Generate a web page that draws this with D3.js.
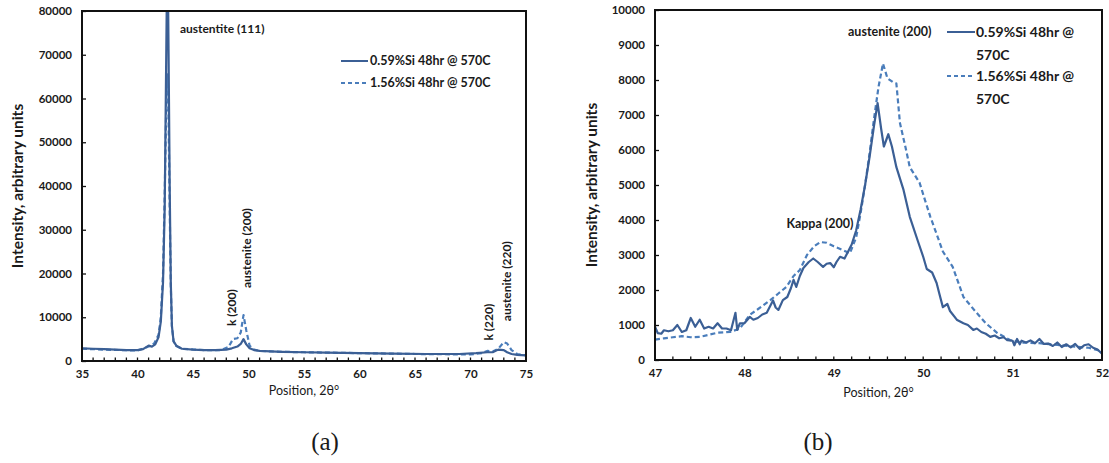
<!DOCTYPE html>
<html>
<head>
<meta charset="utf-8">
<script src="https://cdn.jsdelivr.net/npm/d3@7/dist/d3.min.js"></script>
<style>
  body { margin: 0; background: #fff; }
  svg { display: block; }
  text { font-family: Lato, "Open Sans", sans-serif; fill: #1a1a1a; }
</style>
</head>
<body>
<svg id="chart" width="1109" height="463"></svg>
<script>
// Panel (a): full scan, 2θ from 35° to 75°
const wideX_lowSi  = [35,36,37,38,39,40,40.5,41,41.3,41.6,41.9,42.1,42.3,42.45,42.55,42.65,42.72,42.8,42.9,43.0,43.1,43.25,43.5,44,45,46,47,48,48.5,49,49.3,49.55,49.8,50.1,50.5,51,52,53,55,57,60,63,66,69,70.5,71.5,72,72.5,73,73.3,73.7,74.2,75];
const wideY_lowSi  = [2900,2800,2700,2600,2500,2500,2700,3500,3300,3800,5500,9000,18000,35000,60000,85000,92000,70000,40000,18000,8000,4500,3500,2800,2600,2500,2500,2600,2900,3300,3900,5000,3800,2900,2500,2300,2200,2100,2000,1900,1800,1700,1600,1600,1800,2000,2000,2600,2500,2000,1600,1400,1300];
const wideX_highSi = [35,37,40,41,41.5,41.9,42.1,42.3,42.45,42.6,42.7,42.8,42.9,43.0,43.1,43.25,43.5,44,46,47.5,48.2,48.6,49.0,49.3,49.55,49.8,50.1,50.5,51,53,55,60,65,70,71,71.5,72,72.5,73,73.3,73.7,74.2,75];
const wideY_highSi = [2800,2600,2400,3300,4000,6000,10000,20000,38000,60000,65500,55000,35000,17000,8000,4500,3400,2800,2500,2500,3200,5000,5200,6500,10500,7000,3500,2600,2300,2100,2000,1800,1600,1500,1800,2300,2200,2800,4300,4000,2500,1600,1300];
const wideXTicks = [35,40,45,50,55,60,65,70,75];
const wideYTicks = [0,10000,20000,30000,40000,50000,60000,70000,80000];

// Panel (b): detail around the austenite (200) reflection
const zoomX_lowSi = [47.00,47.03,47.07,47.10,47.15,47.20,47.25,47.30,47.35,47.40,47.45,47.50,47.55,47.60,47.65,47.70,47.75,47.80,47.85,47.90,47.92,47.95,48.00,48.06,48.10,48.15,48.20,48.25,48.32,48.35,48.38,48.43,48.48,48.52,48.55,48.58,48.62,48.66,48.72,48.77,48.82,48.88,48.92,48.96,49.00,49.03,49.07,49.12,49.20,49.25,49.30,49.35,49.40,49.45,49.49,49.53,49.56,49.61,49.65,49.70,49.78,49.85,49.94,50.00,50.04,50.10,50.15,50.18,50.22,50.27,50.30,50.38,50.45,50.50,50.56,50.60,50.65,50.70,50.75,50.80,50.85,50.90,50.94,51.00,51.02,51.05,51.08,51.10,51.15,51.20,51.25,51.30,51.35,51.40,51.45,51.50,51.55,51.60,51.65,51.70,51.75,51.80,51.85,51.90,51.95,52.00];
const zoomY_lowSi = [950,770,750,850,820,850,1000,800,850,1200,950,1150,900,950,900,1050,900,900,850,1350,860,1050,1050,1230,1150,1200,1300,1350,1700,1500,1430,1710,1800,2050,2290,2090,2400,2630,2800,2900,2800,2660,2750,2770,2650,2800,2950,2900,3300,3700,4300,5000,5800,6700,7340,6600,6100,6450,6100,5510,4860,4090,3400,2950,2600,2500,2200,1900,1510,1600,1400,1140,1050,1000,860,900,800,750,660,700,620,650,570,550,420,600,450,550,500,560,480,600,460,470,400,500,370,450,360,460,320,420,450,350,300,180];
const zoomX_highSi = [47.00,47.10,47.20,47.30,47.40,47.50,47.60,47.70,47.84,47.95,48.06,48.15,48.29,48.38,48.47,48.55,48.62,48.70,48.78,48.85,48.92,49.00,49.10,49.18,49.25,49.30,49.35,49.40,49.45,49.50,49.55,49.60,49.66,49.70,49.74,49.80,49.85,49.96,50.02,50.08,50.15,50.22,50.33,50.45,50.60,50.70,50.83,50.97,51.10,51.30,51.50,51.70,51.85,52.00];
const zoomY_highSi = [580,620,650,680,650,660,720,780,800,900,1290,1450,1710,1900,2090,2400,2570,3000,3250,3370,3350,3250,3140,3050,3500,4200,5000,5900,6900,7800,8470,8050,7940,7900,6770,6100,5510,5060,4570,4090,3600,3100,2660,1800,1340,1050,770,570,500,480,430,380,350,250];
const zoomXTicks = [47,48,49,50,51,52];
const zoomYTicks = [0,1000,2000,3000,4000,5000,6000,7000,8000,9000,10000];

const seriesNames = ["0.59%Si 48hr @ 570C", "1.56%Si 48hr @ 570C"];
const colorLow = "#3b5f95";
const colorHigh = "#4a7dbb";

const svg = d3.select("#chart");

function drawPanel(cfg) {
  const { left, top, right, bottom, xDomain, yDomain, xTicks, yTicks, minorStep, id } = cfg;
  const x = d3.scaleLinear().domain(xDomain).range([left, right]);
  const y = d3.scaleLinear().domain(yDomain).range([bottom, top]);
  const g = svg.append("g");

  g.append("clipPath").attr("id", id).append("rect")
    .attr("x", left).attr("y", top).attr("width", right - left).attr("height", bottom - top);

  const line = d3.line().x(d => x(d[0])).y(d => y(d[1]));
  const plot = g.append("g").attr("clip-path", `url(#${id})`);
  cfg.series.forEach(s => {
    plot.append("path")
      .datum(d3.zip(s.xs, s.ys))
      .attr("fill", "none")
      .attr("stroke", s.color)
      .attr("stroke-width", 2.2)
      .attr("stroke-linejoin", "round")
      .attr("stroke-dasharray", s.dash || null)
      .attr("d", line);
  });

  // minor ticks along the x axis, pointing inward
  const minor = d3.range(xDomain[0], xDomain[1] + 1e-9, minorStep);
  g.append("g").selectAll("line").data(minor).join("line")
    .attr("x1", d => x(d)).attr("x2", d => x(d))
    .attr("y1", bottom).attr("y2", bottom - 3.5)
    .attr("stroke", "#111").attr("stroke-width", 1.3);

  const xAxis = g.append("g").attr("transform", `translate(0,${bottom})`)
    .call(d3.axisBottom(x).tickValues(xTicks).tickSize(0).tickPadding(9).tickFormat(d3.format("d")));
  const yAxis = g.append("g").attr("transform", `translate(${left},0)`)
    .call(d3.axisLeft(y).tickValues(yTicks).tickSizeInner(-4).tickSizeOuter(0).tickPadding(10).tickFormat(d3.format("d")));
  [xAxis, yAxis].forEach(a => {
    a.select(".domain").remove();
    a.selectAll(".tick line").attr("stroke", "#111").attr("stroke-width", 1.3);
    a.selectAll("text").attr("font-size", 11.5).attr("font-weight", 700).attr("fill", "#1a1a1a")
      .style("font-family", "Lato, sans-serif");
  });

  g.append("rect")
    .attr("x", left).attr("y", top).attr("width", right - left).attr("height", bottom - top)
    .attr("fill", "none").attr("stroke", "#111").attr("stroke-width", 2);

  g.append("text")
    .attr("transform", `translate(${cfg.yTitleX},${(top + bottom) / 2}) rotate(-90)`)
    .attr("text-anchor", "middle").attr("font-size", 15.5).attr("font-weight", 700)
    .text("Intensity, arbitrary units");
  g.append("text")
    .attr("x", (left + right) / 2).attr("y", cfg.xTitleY)
    .attr("text-anchor", "middle").attr("font-size", 12.5)
    .text("Position, 2θ°");

  return { x, y, g };
}

const panelA = drawPanel({
  id: "clipA", left: 82, top: 11, right: 526, bottom: 361,
  xDomain: [35, 75], yDomain: [0, 80000], xTicks: wideXTicks, yTicks: wideYTicks, minorStep: 1,
  yTitleX: 23, xTitleY: 395,
  series: [
    { xs: wideX_highSi, ys: wideY_highSi, color: colorHigh, dash: "5,3" },
    { xs: wideX_lowSi, ys: wideY_lowSi, color: colorLow }
  ]
});

const panelB = drawPanel({
  id: "clipB", left: 655, top: 10, right: 1102, bottom: 360,
  xDomain: [47, 52], yDomain: [0, 10000], xTicks: zoomXTicks, yTicks: zoomYTicks, minorStep: 0.2,
  yTitleX: 597, xTitleY: 397,
  series: [
    { xs: zoomX_highSi, ys: zoomY_highSi, color: colorHigh, dash: "5,3" },
    { xs: zoomX_lowSi, ys: zoomY_lowSi, color: colorLow }
  ]
});

// Peak labels, panel (a)
function label(g, x, y, txt, rotate, size) {
  const t = g.append("text").attr("font-size", size || 12).attr("font-weight", 700).text(txt);
  if (rotate) t.attr("transform", `translate(${x},${y}) rotate(-90)`);
  else t.attr("x", x).attr("y", y);
}
const gA = panelA.g, xA = panelA.x, yA = panelA.y;
label(gA, xA(42.65) + 13, 33, "austentite (111)");
label(gA, xA(49.55) - 8, yA(4800) - 14, "k (200)", true);
label(gA, xA(49.55) + 7, yA(10500) - 27, "austenite (200)", true);
label(gA, xA(72.1) - 1, yA(2400) - 10, "k (220)", true);
label(gA, xA(73.1) + 6, yA(4300) - 21, "austenite (220)", true);

// Legend, panel (a)
const legA = gA.append("g").attr("transform", "translate(341,61)");
seriesNames.forEach((name, i) => {
  legA.append("line").attr("x1", 0).attr("x2", 27).attr("y1", i * 22).attr("y2", i * 22)
    .attr("stroke", i ? colorHigh : colorLow).attr("stroke-width", 2)
    .attr("stroke-dasharray", i ? "4,3" : null);
  legA.append("text").attr("x", 29).attr("y", i * 22 + 4).attr("font-size", 12.5).attr("font-weight", 700).text(name);
});

// Peak labels and legend, panel (b)
const gB = panelB.g, xB = panelB.x, yB = panelB.y;
label(gB, 848, 36, "austenite (200)", false, 12.5);
label(gB, xB(48.85) - 34, yB(3900) + 4, "Kappa (200)", false, 12.5);

const legB = gB.append("g").attr("transform", "translate(947,32)");
seriesNames.forEach((name, i) => {
  const cut = name.lastIndexOf(" ");
  const yy = i * 44;
  legB.append("line").attr("x1", 0).attr("x2", 28).attr("y1", yy).attr("y2", yy)
    .attr("stroke", i ? colorHigh : colorLow).attr("stroke-width", 2)
    .attr("stroke-dasharray", i ? "4,3" : null);
  const t = legB.append("text").attr("font-size", 14).attr("font-weight", 700);
  t.append("tspan").attr("x", 29).attr("y", yy + 5).text(name.slice(0, cut));
  t.append("tspan").attr("x", 29).attr("y", yy + 28).text(name.slice(cut + 1));
});

// Panel captions
[["(a)", 325], ["(b)", 818]].forEach(([txt, cx]) => {
  svg.append("text").attr("x", cx).attr("y", 450).attr("text-anchor", "middle")
    .attr("font-size", 25).style("font-family", "'Liberation Serif', 'Times New Roman', serif")
    .text(txt);
});
</script>
</body>
</html>
